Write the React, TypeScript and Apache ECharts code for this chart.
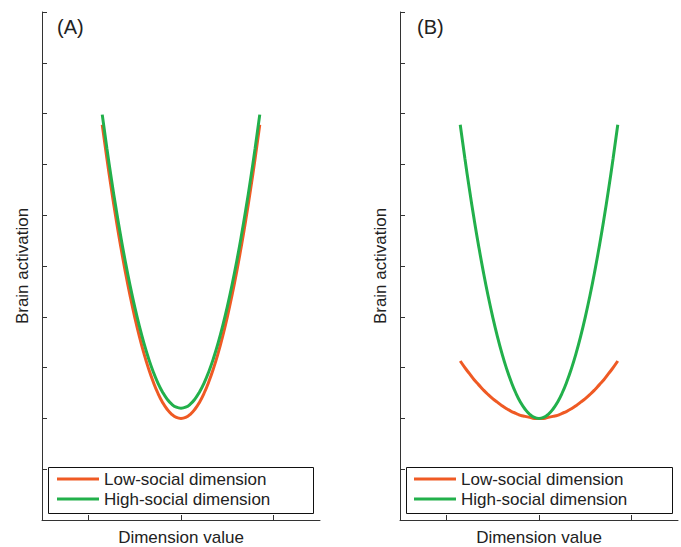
import React, { useEffect, useRef } from "react";
import * as echarts from "echarts";

const xValues = [
  -0.85, -0.8, -0.75, -0.7, -0.65, -0.6, -0.55, -0.5, -0.45, -0.4, -0.35, -0.3, -0.25, -0.2, -0.15, -0.1, -0.05,
  0,
  0.05, 0.1, 0.15, 0.2, 0.25, 0.3, 0.35, 0.4, 0.45, 0.5, 0.55, 0.6, 0.65, 0.7, 0.75, 0.8, 0.85,
];

// Panel A
const lowA = [
  7.78, 7.12, 6.5, 5.92, 5.38, 4.88, 4.42, 4.0, 3.62, 3.28, 2.98, 2.72, 2.5, 2.32, 2.18, 2.08, 2.02,
  2.0,
  2.02, 2.08, 2.18, 2.32, 2.5, 2.72, 2.98, 3.28, 3.62, 4.0, 4.42, 4.88, 5.38, 5.92, 6.5, 7.12, 7.78,
];
const highA = [
  7.98, 7.32, 6.7, 6.12, 5.58, 5.08, 4.62, 4.2, 3.82, 3.48, 3.18, 2.92, 2.7, 2.52, 2.38, 2.28, 2.22,
  2.2,
  2.22, 2.28, 2.38, 2.52, 2.7, 2.92, 3.18, 3.48, 3.82, 4.2, 4.62, 5.08, 5.58, 6.12, 6.7, 7.32, 7.98,
];

// Panel B
const lowB = [
  3.13, 3.0, 2.88, 2.76, 2.66, 2.56, 2.47, 2.39, 2.32, 2.25, 2.19, 2.14, 2.1, 2.06, 2.04, 2.02, 2.0,
  2.0,
  2.0, 2.02, 2.04, 2.06, 2.1, 2.14, 2.19, 2.25, 2.32, 2.39, 2.47, 2.56, 2.66, 2.76, 2.88, 3.0, 3.13,
];
const highB = [
  7.78, 7.12, 6.5, 5.92, 5.38, 4.88, 4.42, 4.0, 3.62, 3.28, 2.98, 2.72, 2.5, 2.32, 2.18, 2.08, 2.02,
  2.0,
  2.02, 2.08, 2.18, 2.32, 2.5, 2.72, 2.98, 3.28, 3.62, 4.0, 4.42, 4.88, 5.38, 5.92, 6.5, 7.12, 7.78,
];

const xTicks = [-1, 0, 1];
const seriesNames = ["Low-social dimension", "High-social dimension"];
const panelLabels = ["(A)", "(B)"];
const xTitle = "Dimension value";
const yTitle = "Brain activation";

const RED = "#EF5A24";
const GREEN = "#22B04B";
const AXIS = "#333333";
const FONT = "Liberation Sans, Arial, Helvetica, sans-serif";

const pairs = (ys: number[]) => xValues.map((x, i) => [x, ys[i]]);

export default function App() {
  const ref = useRef<HTMLDivElement>(null);
  useEffect(() => {
    if (!ref.current) return;
    const chart = echarts.init(ref.current, null, { renderer: "svg" });
    const grids = [
      { left: 42, top: 12, width: 278, height: 508, outerBoundsMode: "none", containLabel: false },
      { left: 400, top: 12, width: 278, height: 508, outerBoundsMode: "none", containLabel: false },
    ];
    const xAxis = grids.map((_, i) => ({
      type: "value",
      gridIndex: i,
      min: -1.5,
      max: 1.5,
      name: xTitle,
      nameLocation: "middle",
      nameGap: 9,
      nameTextStyle: { fontSize: 17, color: "#222", fontFamily: FONT },
      axisLine: { show: true, onZero: false, lineStyle: { color: AXIS, width: 1 } },
      axisTick: { show: true, inside: true, length: 5, customValues: xTicks, lineStyle: { color: AXIS } },
      axisLabel: { show: false },
      splitLine: { show: false },
    }));
    const yAxis = grids.map((_, i) => ({
      type: "value",
      gridIndex: i,
      min: 0,
      max: 10,
      interval: 1,
      name: yTitle,
      nameLocation: "middle",
      nameGap: 11,
      nameTextStyle: { fontSize: 17, color: "#222", fontFamily: FONT },
      axisLine: { show: true, onZero: false, lineStyle: { color: AXIS, width: 1 } },
      axisTick: { show: true, inside: true, length: 5, lineStyle: { color: AXIS } },
      axisLabel: { show: false },
      splitLine: { show: false },
    }));
    const mk = (name: string, data: number[], color: string, idx: number) => ({
      type: "line",
      name,
      xAxisIndex: idx,
      yAxisIndex: idx,
      data: pairs(data),
      smooth: true,
      showSymbol: false,
      symbol: "none",
      lineStyle: { color, width: 3 },
      itemStyle: { color },
    });
    const legendBoxes = [
      { x: 48, w: 265 },
      { x: 406, w: 266 },
    ];
    const legends = [57, 414].map((left) => ({
      left,
      top: 469,
      orient: "vertical",
      itemWidth: 42,
      itemHeight: 3,
      itemGap: 0,
      padding: 0,
      icon: "rect",
      selectedMode: false,
      data: seriesNames,
      textStyle: { fontSize: 17, lineHeight: 20, color: "#222", fontFamily: FONT },
    }));
    chart.setOption({
      animation: false,
      backgroundColor: "#ffffff",
      grid: grids,
      xAxis,
      yAxis,
      legend: legends,
      series: [
        mk(seriesNames[0], lowA, RED, 0),
        mk(seriesNames[1], highA, GREEN, 0),
        mk(seriesNames[0], lowB, RED, 1),
        mk(seriesNames[1], highB, GREEN, 1),
      ],
      graphic: [
        ...legendBoxes.map((b) => ({
          type: "rect",
          shape: { x: b.x + 0.5, y: 467.5, width: b.w, height: 46 },
          style: { fill: "none", stroke: "#111", lineWidth: 1 },
          z: 1,
        })),
        ...panelLabels.map((t, i) => ({
          type: "text",
          left: i === 0 ? 57 : 417,
          top: 17,
          style: { text: t, fontSize: 20, fill: "#222", fontFamily: FONT },
        })),
      ],
    });
    return () => chart.dispose();
  }, []);
  return (
    <div
      ref={ref}
      style={{ position: "absolute", left: 0, top: 0, width: 681, height: 547 }}
    />
  );
}
